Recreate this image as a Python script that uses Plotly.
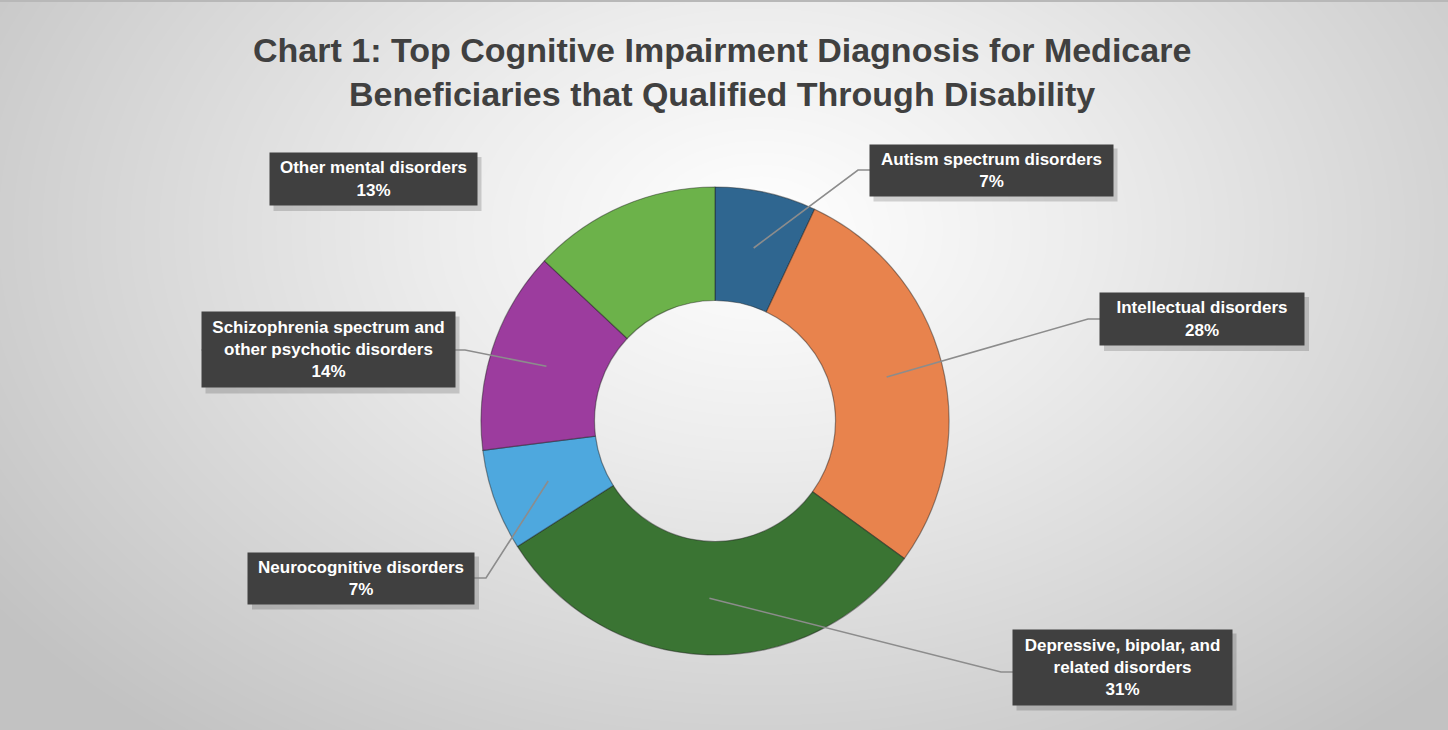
import numpy as np
import plotly.graph_objects as go

W, H = 1448, 730

categories = [
    "Autism spectrum disorders",
    "Intellectual disorders",
    "Depressive, bipolar, and related disorders",
    "Neurocognitive disorders",
    "Schizophrenia spectrum and other psychotic disorders",
    "Other mental disorders",
]
label_text = [
    "Autism spectrum disorders",
    "Intellectual disorders",
    "Depressive, bipolar, and<br>related disorders",
    "Neurocognitive disorders",
    "Schizophrenia spectrum and<br>other psychotic disorders",
    "Other mental disorders",
]
values = [7, 28, 31, 7, 14, 13]
colors = ["#2f6690", "#e8834d", "#3a7433", "#4ea8de", "#9c3c9e", "#6cb24a"]

title = ("Chart 1: Top Cognitive Impairment Diagnosis for Medicare<br>"
         "Beneficiaries that Qualified Through Disability")

# layout (pixel) helpers
def px(x):
    return x / W

def py(y):
    return 1 - y / H

cx, cy, R = 715, 421, 234
hole = 0.515

# label boxes: centre x, centre y, width, height (pixels)
boxes = [
    (991, 170, 243, 51),
    (1202, 319, 204, 52),
    (1122, 667, 219, 75),
    (361, 578, 226, 51),
    (328, 350, 253, 75),
    (373, 179, 207, 52),
]
# leader line elbow (pixels) for each label; None = no leader
elbows = [
    (858, 170),
    (1088, 319),
    (1001, 672),
    (486, 578),
    (465, 350),
    None,
]

fig = go.Figure()

# background gradient
gx = np.linspace(0, W, 60)
gy = np.linspace(0, H, 30)
X, Y = np.meshgrid(gx, gy)
D = np.sqrt(((X - 760) / 900) ** 2 + ((Y - 230) / 620) ** 2)
fig.add_trace(go.Heatmap(
    x=gx, y=gy, z=D, zsmooth="best", showscale=False, hoverinfo="skip",
    colorscale=[[0, "#ffffff"], [0.35, "#ececec"], [1, "#c2c2c2"]],
    zmin=0, zmax=1.05, xaxis="x", yaxis="y",
))

fig.add_trace(go.Pie(
    labels=categories, values=values, sort=False, direction="clockwise",
    rotation=0, hole=hole, textinfo="none", hoverinfo="label+percent",
    marker=dict(colors=colors, line=dict(color="rgba(30,30,30,0.45)", width=1.2)),
    domain=dict(x=[px(cx - R), px(cx + R)], y=[py(cy + R), py(cy - R)]),
    showlegend=False,
))

shapes = []
annotations = []
total = sum(values)
cum = 0
rmid = R * (1 + hole) / 2
for i, v in enumerate(values):
    mid = (cum + v / 2) / total * 2 * np.pi
    cum += v
    sx = cx + rmid * np.sin(mid)
    sy = cy - rmid * np.cos(mid)
    bx, by, bw, bh = boxes[i]
    # shadow
    shapes.append(dict(type="rect", xref="paper", yref="paper",
                       x0=px(bx - bw / 2 + 4), x1=px(bx + bw / 2 + 5),
                       y0=py(by + bh / 2 + 6), y1=py(by - bh / 2 + 4),
                       fillcolor="rgba(0,0,0,0.16)", line=dict(width=0), layer="above"))
    if elbows[i] is not None:
        ex, ey = elbows[i]
        edge_x = bx - bw / 2 if ex > bx else bx + bw / 2
        path = f"M {px(sx)} {py(sy)} L {px(ex)} {py(ey)} L {px(edge_x)} {py(ey)}"
        shapes.append(dict(type="path", xref="paper", yref="paper", path=path,
                           line=dict(color="#8c8c8c", width=1.6), layer="above"))
    annotations.append(dict(
        x=px(bx), y=py(by), xref="paper", yref="paper",
        text=f"<b>{label_text[i]}<br>{v}%</b>", showarrow=False,
        align="center", xanchor="center", yanchor="middle",
        width=bw, height=bh, borderpad=0, bgcolor="#404040",
        font=dict(family="Liberation Sans", size=17, color="#ffffff"),
    ))

annotations.append(dict(
    x=px(722), y=py(72), xref="paper", yref="paper", text=f"<b>{title}</b>",
    showarrow=False, xanchor="center", yanchor="middle", align="center",
    font=dict(family="Liberation Sans", size=34, color="#404040"),
))

# top border line
shapes.append(dict(type="line", xref="paper", yref="paper", x0=0, x1=1,
                   y0=py(1), y1=py(1), line=dict(color="#b8b8b8", width=2), layer="above"))

fig.update_layout(
    width=W, height=H, margin=dict(l=0, r=0, t=0, b=0),
    paper_bgcolor="#e6e6e6", plot_bgcolor="rgba(0,0,0,0)",
    xaxis=dict(domain=[0, 1], range=[0, W], visible=False, fixedrange=True),
    yaxis=dict(domain=[0, 1], range=[H, 0], visible=False, fixedrange=True),
    shapes=shapes, annotations=annotations, showlegend=False,
)

fig.write_html("out.html", config={"displayModeBar": False},
               post_script="document.body.style.margin='0';document.body.style.overflow='hidden';")
